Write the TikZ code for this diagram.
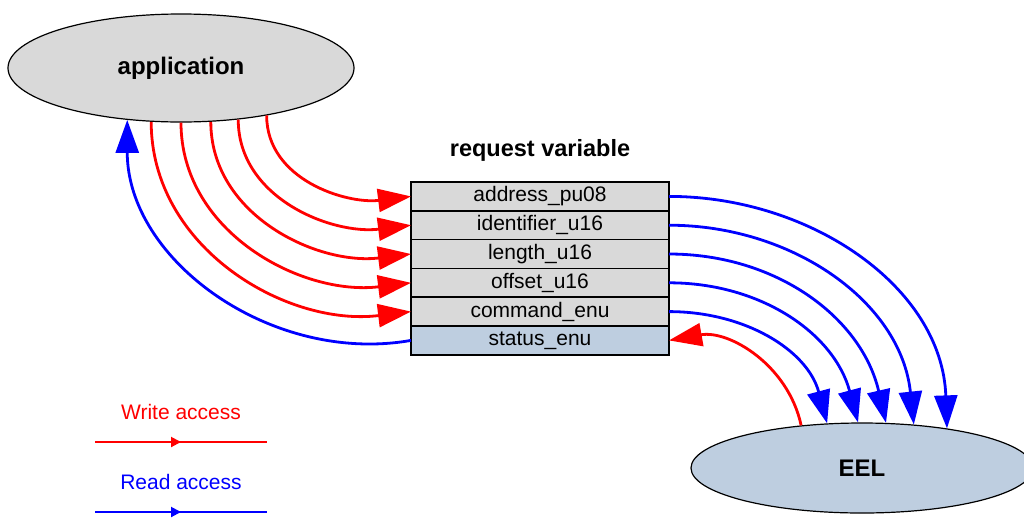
\documentclass[tikz,border=0pt]{standalone}
\usepackage{fontspec}
\setmainfont{Liberation Sans}
\usetikzlibrary{positioning,shapes.geometric,arrows.meta}
\definecolor{boxgrey}{RGB}{217,217,217}
\definecolor{boxblue}{RGB}{190,206,224}
\tikzset{
  field/.style={draw, line width=1.6pt, fill=boxgrey, minimum width=258pt, minimum height=28.8pt,
    inner sep=0pt, outer sep=0pt, font=\fontsize{21}{25}\selectfont},
  blob/.style={ellipse, draw, line width=1.2pt, inner sep=0pt, font=\bfseries\fontsize{24}{28}\selectfont},
  wr/.style={red, line width=2.8pt, -{Triangle[length=33pt,width=23pt]}},
  rd/.style={blue, line width=2.8pt, -{Triangle[length=33pt,width=23pt]}},
  legendtext/.style={font=\fontsize{21}{25}\selectfont},
}
\begin{document}
\begin{tikzpicture}[x=1pt, y=-1pt]
                \useasboundingbox (0,0) rectangle (1024,520);

                \node[blob, fill=boxgrey, minimum width=346pt, minimum height=108pt] (app) at (181, 68) {application};
                \node[blob, fill=boxblue, minimum width=342pt, minimum height=90pt] (eel) at (862, 468) {EEL};

                \node[font=\bfseries\fontsize{23.5}{28}\selectfont] (title) at (540, 150) {request variable};
                \node[field] (addr) at (540, 196.4) {address\_pu08};
                \node[field, below=0pt of addr] (ident) {identifier\_u16};
                \node[field, below=0pt of ident] (len) {length\_u16};
                \node[field, below=0pt of len] (offs) {offset\_u16};
                \node[field, below=0pt of offs] (cmd) {command\_enu};
                \node[field, fill=boxblue, below=0pt of cmd] (stat) {status\_enu};

                \draw[wr] (app.-29) to[out=-90, in=187] (addr.west);
                \draw[wr] (app.-42) to[out=-90, in=187] (ident.west);
                \draw[wr] (app.-61) to[out=-90, in=187] (len.west);
                \draw[wr] (app.-90) to[out=-90, in=187] (offs.west);
                \draw[wr] (app.-119) to[out=-90, in=187] (cmd.west);
                \draw[rd] (stat.west) to[out=190, in=-90] (app.-136);

                \draw[rd] (addr.east) to[out=0, in=92] (eel.25);
                \draw[rd] (ident.east) to[out=0, in=96] (eel.40);
                \draw[rd] (len.east) to[out=0, in=103] (eel.62);
                \draw[rd] (offs.east) to[out=0, in=105] (eel.95);
                \draw[rd] (cmd.east) to[out=0, in=105] (eel.128);
                \draw[wr] (eel.145) to[out=102, in=10] (stat.east);

                \node[legendtext, text=red] (wlab) at (181, 412) {Write access};
                \coordinate (w1) at (95, 442);
                \coordinate (wm) at (181, 442);
                \coordinate (w2) at (267, 442);
                \draw[red, line width=2pt] (w1) -- (w2);
                \draw[red, line width=2pt, -{Triangle[length=10pt,width=10pt]}] (w1) -- (wm);

                \node[legendtext, text=blue] (rlab) at (181, 482) {Read access};
                \coordinate (r1) at (95, 512);
                \coordinate (rm) at (181, 512);
                \coordinate (r2) at (267, 512);
                \draw[blue, line width=2pt] (r1) -- (r2);
                \draw[blue, line width=2pt, -{Triangle[length=10pt,width=10pt]}] (r1) -- (rm);
            \end{tikzpicture}
\end{document}
